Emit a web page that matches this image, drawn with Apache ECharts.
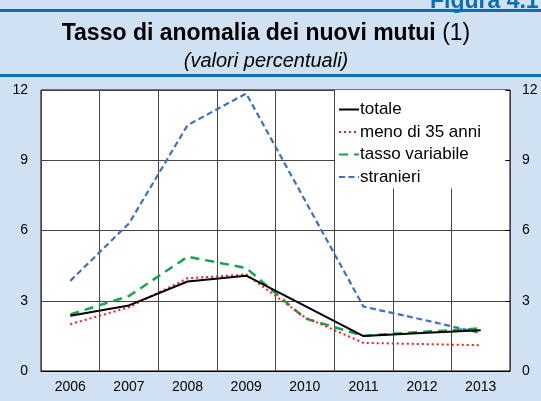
<!DOCTYPE html>
<html>
<head>
<meta charset="utf-8">
<script src="https://cdn.jsdelivr.net/npm/echarts@6/dist/echarts.min.js"></script>
<style>
  html, body { margin: 0; padding: 0; background: #cfe1f2; }
  #chart { width: 541px; height: 401px; }
</style>
</head>
<body>
<div id="chart"></div>
<script>
// anni
var years = ['2006', '2007', '2008', '2009', '2010', '2011', '2012', '2013'];
// valori percentuali
var totale = [2.36, 2.8, 3.82, 4.07, 2.78, 1.49, 1.62, 1.74];
var meno35 = [2.0, 2.72, 3.96, 4.12, 2.3, 1.2, 1.15, 1.1];
var tassoVar = [2.42, 3.2, 4.88, 4.4, 2.25, 1.5, 1.67, 1.82];
var stranieri = [3.85, 6.3, 10.5, 11.85, 7.3, 2.75, 2.2, 1.62];
var yTicks = [0, 3, 6, 9, 12];

var FONT = '"Liberation Sans", Arial, sans-serif';
var BLUE = '#0b6fb5';

var chart = echarts.init(document.getElementById('chart'));

function yAxisOpt(pos) {
  return {
    type: 'value',
    position: pos,
    min: yTicks[0],
    max: yTicks[yTicks.length - 1],
    interval: 3,
    axisLine: { show: false },
    axisTick: pos === 'right' ? { show: true, inside: true, length: 4, lineStyle: { color: '#000' } } : { show: false },
    axisLabel: {
      margin: pos === 'left' ? 13 : 12,
      color: '#000',
      fontSize: 14,
      fontFamily: FONT
    },
    splitLine: pos === 'left' ? { show: true, lineStyle: { color: '#444', width: 1 } } : { show: false }
  };
}

chart.setOption({
  backgroundColor: '#cfe1f2',
  animation: false,
  graphic: [
    { type: 'rect', shape: { x: 0, y: 9, width: 541, height: 3 }, style: { fill: BLUE } },
    { type: 'rect', shape: { x: 0, y: 74, width: 541, height: 3 }, style: { fill: BLUE } },
    {
      type: 'text', left: 430, top: -10,
      style: { text: 'Figura 4.1', fill: BLUE, font: 'bold 23px ' + FONT }
    },
    {
      type: 'text', x: 266, y: 34,
      style: {
        text: '{b|Tasso di anomalia dei nuovi mutui}{n| (1)}',
        align: 'center', verticalAlign: 'middle',
        rich: {
          b: { font: 'bold 23px ' + FONT, fill: '#000' },
          n: { font: '23px ' + FONT, fill: '#000' }
        }
      }
    },
    {
      type: 'text', x: 266, y: 61,
      style: { text: '(valori percentuali)', align: 'center', verticalAlign: 'middle', font: 'italic 20px ' + FONT, fill: '#000' }
    }
  ],
  legend: {
    orient: 'vertical',
    left: 335,
    top: 90,
    padding: [11, 24, 3, 3],
    backgroundColor: '#fff',
    itemWidth: 20,
    itemHeight: 14,
    itemGap: 5.5,
    itemStyle: { opacity: 0 },
    textStyle: { fontSize: 17, fontFamily: FONT, color: '#000', padding: [0, 0, 0, -4] },
    data: ['totale', 'meno di 35 anni', 'tasso variabile', 'stranieri']
  },
  grid: {
    left: 41, right: 31, top: 90, bottom: 30,
    show: true,
    backgroundColor: '#fff',
    borderColor: '#000',
    borderWidth: 1
  },
  xAxis: {
    type: 'category',
    data: years,
    boundaryGap: true,
    axisLine: { show: true, lineStyle: { color: '#000' } },
    axisTick: { show: false },
    axisLabel: { margin: 9, color: '#000', fontSize: 14, fontFamily: FONT },
    splitLine: { show: true, interval: 0, lineStyle: { color: '#444', width: 1 } }
  },
  yAxis: [yAxisOpt('left'), yAxisOpt('right')],
  series: [
    {
      name: 'totale', type: 'line', symbol: 'none', z: 5,
      lineStyle: { color: '#000', width: 2 },
      itemStyle: { color: '#000' },
      data: totale
    },
    {
      name: 'meno di 35 anni', type: 'line', symbol: 'none', z: 4,
      lineStyle: { color: '#ff1a1a', width: 2, type: [2, 3] },
      itemStyle: { color: '#ff1a1a' },
      data: meno35
    },
    {
      name: 'tasso variabile', type: 'line', symbol: 'none', z: 3,
      lineStyle: { color: '#12a84a', width: 2.5, type: [9, 6] },
      itemStyle: { color: '#12a84a' },
      data: tassoVar
    },
    {
      name: 'stranieri', type: 'line', symbol: 'none', z: 2,
      lineStyle: { color: '#3f6fc2', width: 2.2, type: [6, 3.5] },
      itemStyle: { color: '#3f6fc2' },
      data: stranieri
    }
  ]
});
</script>
</body>
</html>
